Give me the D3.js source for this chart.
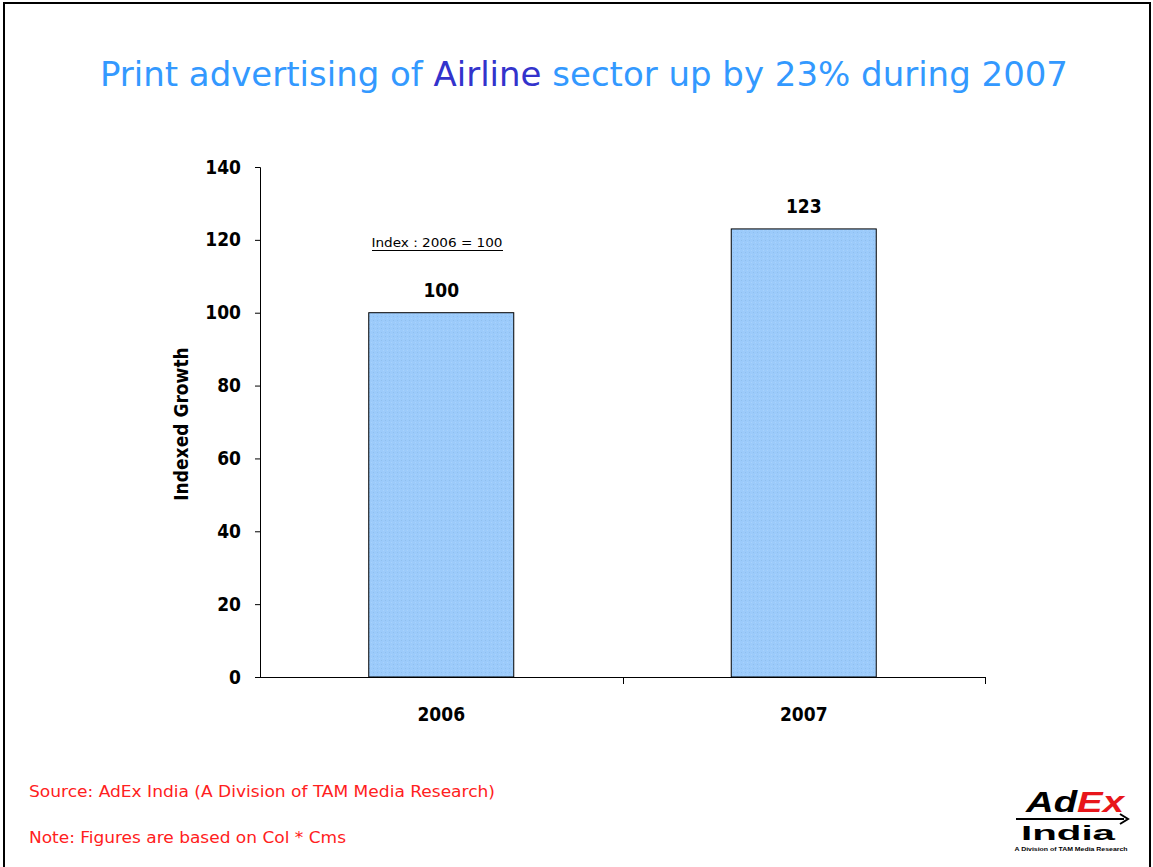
<!DOCTYPE html>
<html>
<head>
<meta charset="utf-8">
<script src="https://cdn.jsdelivr.net/npm/d3@7"></script>
<style>
  body { margin: 0; background: #fff; }
  svg { display: block; }
</style>
</head>
<body>
<script>
// chart values
var years = ["2006", "2007"];
var indexValues = [100, 123];
var yTicks = [0, 20, 40, 60, 80, 100, 120, 140];

var W = 1153, H = 867;
var margin = {top: 167, right: 168, bottom: 190, left: 260},
    width = W - margin.left - margin.right,
    height = H - margin.top - margin.bottom;

var boldFont = "'DejaVu Sans Condensed', 'DejaVu Sans', sans-serif";

var svg = d3.select("body").append("svg")
    .attr("width", W)
    .attr("height", H);

// slide frame
svg.append("rect")
    .attr("x", 4).attr("y", 3)
    .attr("width", W - 7).attr("height", H + 10)
    .attr("fill", "none")
    .attr("stroke", "#000")
    .attr("stroke-width", 2);

// title
var title = svg.append("text")
    .attr("x", 584)
    .attr("y", 86)
    .attr("text-anchor", "middle")
    .style("font-family", "'DejaVu Sans Condensed', 'DejaVu Sans', sans-serif")
    .style("font-size", "34px")
    .attr("textLength", 968)
    .attr("lengthAdjust", "spacingAndGlyphs")
    .attr("fill", "#3399ff");
title.append("tspan").text("Print advertising of ");
title.append("tspan").attr("fill", "#3333cc").text("Airline");
title.append("tspan").text(" sector up by 23% during 2007");

var g = svg.append("g")
    .attr("transform", "translate(" + margin.left + "," + margin.top + ")");

var yScale = d3.scaleLinear()
    .domain([0, 140])
    .range([height, 0]);

var xScale = d3.scaleBand()
    .domain(years)
    .range([0, width])
    .padding(0);

var barWidth = xScale.bandwidth() * 0.4;

// bar texture
var defs = svg.append("defs");
var pat = defs.append("pattern")
    .attr("id", "stipple")
    .attr("patternUnits", "userSpaceOnUse")
    .attr("width", 4).attr("height", 4);
pat.append("rect").attr("width", 4).attr("height", 4).attr("fill", "#9ccbfb");
pat.append("rect").attr("x", 1).attr("y", 1).attr("width", 1).attr("height", 1).attr("fill", "#8fbfee");
pat.append("rect").attr("x", 3).attr("y", 3).attr("width", 1).attr("height", 1).attr("fill", "#a9d3fc");

// bars
g.selectAll(".bar")
    .data(indexValues)
    .enter().append("rect")
    .attr("class", "bar")
    .attr("x", function(d, i) { return xScale(years[i]) + xScale.bandwidth() / 2 - barWidth / 2; })
    .attr("y", function(d) { return yScale(d); })
    .attr("width", barWidth)
    .attr("height", function(d) { return height - yScale(d); })
    .attr("fill", "url(#stipple)")
    .attr("stroke", "#000")
    .attr("stroke-width", 1);

// value labels
g.selectAll(".val")
    .data(indexValues)
    .enter().append("text")
    .attr("class", "val")
    .attr("x", function(d, i) { return xScale(years[i]) + xScale.bandwidth() / 2; })
    .attr("y", function(d) { return yScale(d) - 16; })
    .attr("text-anchor", "middle")
    .style("font-family", boldFont)
    .style("font-weight", "bold")
    .style("font-size", "19px")
    .text(function(d) { return d; });

// y axis
var yAxis = d3.axisLeft(yScale)
    .tickValues(yTicks)
    .tickSize(5)
    .tickPadding(14);

g.append("g")
    .attr("class", "y axis")
    .call(yAxis)
    .call(function(s) {
      s.select(".domain").attr("stroke", "#000").attr("d", "M0.5," + height + "V0.5H-5");
      s.selectAll("text")
        .style("font-family", boldFont)
        .style("font-weight", "bold")
        .style("font-size", "19px")
        .attr("fill", "#000");
    });

// x axis: line with ticks on category boundaries, labels centred
var xg = g.append("g")
    .attr("transform", "translate(0," + height + ")");
xg.append("line")
    .attr("x1", 0).attr("x2", width)
    .attr("y1", 0.5).attr("y2", 0.5)
    .attr("stroke", "#000");
xg.selectAll(".xtick")
    .data(years)
    .enter().append("line")
    .attr("class", "xtick")
    .attr("x1", function(d) { return Math.round(xScale(d) + xScale.bandwidth()) + 0.5; })
    .attr("x2", function(d) { return Math.round(xScale(d) + xScale.bandwidth()) + 0.5; })
    .attr("y1", 0).attr("y2", 7)
    .attr("stroke", "#000");
xg.selectAll(".xlabel")
    .data(years)
    .enter().append("text")
    .attr("class", "xlabel")
    .attr("x", function(d) { return xScale(d) + xScale.bandwidth() / 2; })
    .attr("y", 44)
    .attr("text-anchor", "middle")
    .style("font-family", boldFont)
    .style("font-weight", "bold")
    .style("font-size", "19px")
    .text(function(d) { return d; });

// y axis title
svg.append("text")
    .attr("transform", "translate(188," + 424 + ") rotate(-90)")
    .attr("text-anchor", "middle")
    .style("font-family", boldFont)
    .style("font-weight", "bold")
    .style("font-size", "19px")
    .text("Indexed Growth");

// index note
svg.append("text")
    .attr("x", 437)
    .attr("y", 247)
    .attr("text-anchor", "middle")
    .style("font-family", "'DejaVu Sans Condensed', 'DejaVu Sans', sans-serif")
    .style("font-size", "13px")
    .attr("textLength", 131)
    .attr("lengthAdjust", "spacingAndGlyphs")
    .text("Index : 2006 = 100");
svg.append("line")
    .attr("x1", 372).attr("x2", 503)
    .attr("y1", 250.5).attr("y2", 250.5)
    .attr("stroke", "#000");

// footnotes
svg.append("text")
    .attr("x", 29).attr("y", 797)
    .attr("fill", "#ff2020")
    .style("font-family", "'DejaVu Sans Condensed', 'DejaVu Sans', sans-serif")
    .style("font-size", "16px")
    .attr("textLength", 466)
    .attr("lengthAdjust", "spacingAndGlyphs")
    .text("Source: AdEx India (A Division of TAM Media Research)");
svg.append("text")
    .attr("x", 29).attr("y", 843)
    .attr("fill", "#ff2020")
    .style("font-family", "'DejaVu Sans Condensed', 'DejaVu Sans', sans-serif")
    .style("font-size", "16px")
    .attr("textLength", 317)
    .attr("lengthAdjust", "spacingAndGlyphs")
    .text("Note: Figures are based on Col * Cms");

// logo
var logo = svg.append("g");
var ad = logo.append("text")
    .attr("x", 1026).attr("y", 812)
    .style("font-family", "'Liberation Sans', sans-serif")
    .style("font-weight", "bold")
    .style("font-style", "italic")
    .style("font-size", "30px")
    .attr("textLength", 98)
    .attr("lengthAdjust", "spacingAndGlyphs");
ad.append("tspan").attr("fill", "#000").text("Ad");
ad.append("tspan").attr("fill", "#e8161b").text("Ex");
logo.append("line")
    .attr("x1", 1016).attr("x2", 1124)
    .attr("y1", 819).attr("y2", 819)
    .attr("stroke", "#000").attr("stroke-width", 2);
logo.append("path")
    .attr("d", "M1120,814 L1128,819 L1120,824")
    .attr("fill", "none").attr("stroke", "#000").attr("stroke-width", 2);
logo.append("text")
    .attr("x", 1068).attr("y", 840)
    .attr("text-anchor", "middle")
    .style("font-family", "'Liberation Sans', sans-serif")
    .style("font-weight", "bold")
    .style("font-size", "21px")
    .attr("textLength", 94)
    .attr("lengthAdjust", "spacingAndGlyphs")
    .text("India");
logo.append("text")
    .attr("x", 1071).attr("y", 851)
    .attr("text-anchor", "middle")
    .style("font-family", "'Liberation Sans', sans-serif")
    .style("font-weight", "bold")
    .style("font-size", "6px")
    .attr("textLength", 113)
    .attr("lengthAdjust", "spacingAndGlyphs")
    .text("A Division of TAM Media Research");
</script>
</body>
</html>
